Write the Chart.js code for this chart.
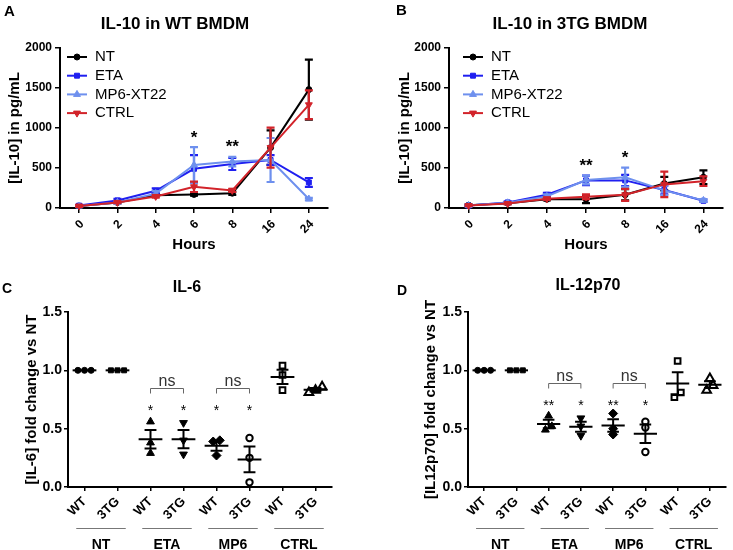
<!DOCTYPE html>
<html>
<head>
<meta charset="utf-8">
<script src="https://cdn.jsdelivr.net/npm/chart.js@4.4.1/dist/chart.umd.min.js"></script>
<style>
  body { margin: 0; background: #fff; }
  #wrap { position: relative; width: 733px; height: 550px; overflow: hidden; font-family: "Liberation Sans", Arial, sans-serif; }
  #wrap canvas { position: absolute; }
  .tag { position: absolute; font-weight: bold; font-size: 15px; line-height: 15px; }
  .ttl { position: absolute; font-weight: bold; font-size: 17px; line-height: 17px; white-space: nowrap; transform: translateX(-50%); }
</style>
</head>
<body>
<div id="wrap">
  <canvas id="chartA" width="366" height="275" style="left:0;top:0"></canvas>
  <canvas id="chartB" width="367" height="275" style="left:366px;top:0"></canvas>
  <canvas id="chartC" width="366" height="275" style="left:0;top:275px"></canvas>
  <canvas id="chartD" width="367" height="275" style="left:366px;top:275px"></canvas>

  <div class="tag" style="left:4px;top:3px">A</div>
  <div class="tag" style="left:396px;top:2px">B</div>
  <div class="tag" style="left:2px;top:281px;font-size:14px">C</div>
  <div class="tag" style="left:397px;top:283px;font-size:14px">D</div>

  <div class="ttl" style="left:175px;top:15px">IL-10 in WT BMDM</div>
  <div class="ttl" style="left:570px;top:15px">IL-10 in 3TG BMDM</div>
  <div class="ttl" style="left:187px;top:278px;font-size:16px">IL-6</div>
  <div class="ttl" style="left:588px;top:276px;font-size:16px">IL-12p70</div>
</div>

<script>
const hours = ['0', '2', '4', '6', '8', '16', '24'];

// A: IL-10 in WT BMDM, pg/mL, mean and SEM
const wtNT = [25, 70, 160, 170, 185, 755, 1480];
const wtNTErr = [10, 10, 15, 15, 20, 215, 375];
const wtETA = [30, 95, 215, 490, 550, 600, 320];
const wtETAErr = [10, 20, 30, 170, 75, 60, 55];
const wtMP6 = [25, 70, 180, 537, 580, 600, 112];
const wtMP6Err = [10, 15, 30, 225, 60, 275, 15];
const wtCTRL = [25, 70, 145, 265, 220, 755, 1290];
const wtCTRLErr = [10, 10, 15, 65, 20, 250, 180];
const wtStars = ['', '', '', '*', '**', '', ''];

// B: IL-10 in 3TG BMDM
const tgNT = [35, 60, 110, 110, 165, 305, 385];
const tgNTErr = [8, 10, 15, 50, 70, 85, 85];
const tgETA = [30, 70, 165, 345, 345, 225, 90];
const tgETAErr = [8, 12, 25, 60, 70, 55, 15];
const tgMP6 = [30, 65, 145, 350, 385, 220, 95];
const tgMP6Err = [8, 12, 25, 55, 120, 60, 15];
const tgCTRL = [30, 55, 115, 140, 165, 295, 335];
const tgCTRLErr = [8, 10, 15, 30, 75, 160, 60];
const tgStars = ['', '', '', '**', '*', '', ''];

// C and D: fold change vs NT, three replicates per group
const genotypes = ['WT', '3TG', 'WT', '3TG', 'WT', '3TG', 'WT', '3TG'];
const treatments = ['NT', 'ETA', 'MP6', 'CTRL'];
const il6Fold = [
  [1, 1, 1], [1, 1, 1],
  [0.56, 0.38, 0.29], [0.55, 0.40, 0.28],
  [0.40, 0.39, 0.27], [0.42, 0.25, 0.04],
  [1.04, 0.96, 0.83], [0.86, 0.83, 0.81]
];
const il12Fold = [
  [1, 1, 1], [1, 1, 1],
  [0.61, 0.52, 0.49], [0.59, 0.52, 0.44],
  [0.63, 0.50, 0.45], [0.56, 0.51, 0.30],
  [1.08, 0.81, 0.77], [0.93, 0.87, 0.83]
];
const il6Stars = ['', '', '*', '*', '*', '*', '', ''];
const il12Stars = ['', '', '**', '*', '**', '*', '', ''];
const nsPairs = [[2, 3], [4, 5]];

const FONT = '"Liberation Sans", Arial, sans-serif';
Chart.defaults.font.family = FONT;
Chart.defaults.color = '#000';

const colNT = '#000000', colETA = '#1f1ff0', colMP6 = '#6e90ee', colCTRL = '#d2232a';

// error bars drawn right after each line so later series sit on top
const errorBars = {
  id: 'errorBars',
  afterDatasetDraw(chart, args) {
    const ds = chart.data.datasets[args.index];
    if (!ds.errors) return;
    const y = chart.scales.y, ctx = chart.ctx;
    ctx.save();
    ctx.strokeStyle = ds.borderColor;
    ctx.lineWidth = 2.2;
    args.meta.data.forEach((pt, i) => {
      const e = ds.errors[i];
      const top = y.getPixelForValue(ds.data[i] + e);
      const bot = y.getPixelForValue(Math.max(ds.data[i] - e, 0));
      ctx.beginPath();
      ctx.moveTo(pt.x, top); ctx.lineTo(pt.x, bot);
      ctx.moveTo(pt.x - 4, top); ctx.lineTo(pt.x + 4, top);
      ctx.moveTo(pt.x - 4, bot); ctx.lineTo(pt.x + 4, bot);
      ctx.stroke();
    });
    ctx.restore();
  }
};

// legend inside the plot, line + marker like the prism key
const seriesKey = {
  id: 'seriesKey',
  afterDraw(chart, args, opts) {
    const { ctx, chartArea } = chart;
    ctx.save();
    ctx.font = '15px ' + FONT;
    ctx.textBaseline = 'middle';
    chart.data.datasets.forEach((ds, i) => {
      const y = chartArea.top + 9 + i * 18.7;
      const x0 = chartArea.left + opts.x;
      ctx.strokeStyle = ds.borderColor;
      ctx.fillStyle = ds.borderColor;
      ctx.lineWidth = 2;
      ctx.beginPath(); ctx.moveTo(x0, y); ctx.lineTo(x0 + 20, y); ctx.stroke();
      ctx.lineWidth = 1;
      Chart.helpers.drawPoint(ctx, { pointStyle: ds.pointStyle, rotation: ds.pointRotation || 0, radius: ds.pointRadius, borderWidth: 1 }, x0 + 10, y);
      ctx.fillStyle = '#000';
      ctx.fillText(ds.label, x0 + 28, y);
    });
    ctx.restore();
  }
};

// significance marks above the highest error bar of a time point
const timeStars = {
  id: 'timeStars',
  afterDatasetsDraw(chart, args, opts) {
    const { ctx, scales: { x, y } } = chart;
    ctx.save();
    ctx.fillStyle = '#000';
    ctx.font = 'bold 17px ' + FONT;
    ctx.textAlign = 'center';
    ctx.textBaseline = 'middle';
    opts.marks.forEach((m, i) => {
      if (!m) return;
      const top = Math.max(...chart.data.datasets.map(ds => ds.data[i] + ds.errors[i]));
      ctx.fillText(m, x.getPixelForValue(i), y.getPixelForValue(top) - 9);
    });
    ctx.restore();
  }
};

function series(label, data, errors, color, style, radius, rotation, order) {
  return {
    label, data, errors,
    borderColor: color, backgroundColor: color,
    pointBackgroundColor: color, pointBorderColor: color,
    pointStyle: style, pointRadius: radius, pointRotation: rotation, pointBorderWidth: 1,
    borderWidth: 2, tension: 0, clip: false, order
  };
}

function timeCourse(id, sets, stars, keyX, leftWidth, rightPad, yTitlePad) {
  return new Chart(document.getElementById(id), {
    type: 'line',
    data: { labels: hours, datasets: sets },
    options: {
      responsive: false,
      animation: false,
      layout: { padding: { left: 0, top: 48, right: rightPad, bottom: 0 } },
      plugins: {
        legend: { display: false },
        tooltip: { enabled: false },
        seriesKey: { x: keyX },
        timeStars: { marks: stars }
      },
      scales: {
        x: {
          offset: true,
          grid: { offset: false, drawOnChartArea: false, color: '#000', lineWidth: 1.5, tickLength: 5 },
          border: { color: '#000', width: 2 },
          ticks: { font: { size: 12, weight: 'bold' }, minRotation: 45, maxRotation: 45, labelOffset: 3, padding: 4 },
          title: { display: true, text: 'Hours', font: { size: 15, weight: 'bold' }, padding: { top: 0, bottom: 21 } },
          afterFit: s => { s.height = 67; }
        },
        y: {
          min: 0, max: 2000,
          grid: { drawOnChartArea: false, color: '#000', lineWidth: 1.5, tickLength: 5 },
          border: { color: '#000', width: 2 },
          ticks: { stepSize: 500, callback: v => String(v), font: { size: 12, weight: 'bold' }, padding: 3 },
          title: { display: true, text: '[IL-10] in pg/mL', font: { size: 15, weight: 'bold' }, padding: { top: yTitlePad, bottom: 0 } },
          afterFit: s => { s.width = leftWidth; }
        }
      }
    },
    plugins: [errorBars, seriesKey, timeStars]
  });
}

timeCourse('chartA', [
  series('NT', wtNT, wtNTErr, colNT, 'circle', 3, 0, 4),
  series('ETA', wtETA, wtETAErr, colETA, 'rect', 3.5, 0, 3),
  series('MP6-XT22', wtMP6, wtMP6Err, colMP6, 'triangle', 4, 0, 2),
  series('CTRL', wtCTRL, wtCTRLErr, colCTRL, 'triangle', 4, 180, 1)
], wtStars, 7, 60, 38, 6);

timeCourse('chartB', [
  series('NT', tgNT, tgNTErr, colNT, 'circle', 3, 0, 4),
  series('ETA', tgETA, tgETAErr, colETA, 'rect', 3.5, 0, 3),
  series('MP6-XT22', tgMP6, tgMP6Err, colMP6, 'triangle', 4, 0, 2),
  series('CTRL', tgCTRL, tgCTRLErr, colCTRL, 'triangle', 4, 180, 1)
], tgStars, 14, 83, 10, 30);

// ---- dot plots ----

// points with nearly the same value are spread sideways, as prism does
function spread(values) {
  const xs = values.map(() => 0);
  const idx = values.map((v, i) => i).sort((a, b) => values[a] - values[b]);
  let k = 0;
  while (k < idx.length) {
    let j = k;
    while (j + 1 < idx.length && values[idx[j + 1]] - values[idx[j]] < 0.045) j++;
    const n = j - k + 1;
    for (let m = 0; m < n; m++) xs[idx[k + m]] = (m - (n - 1) / 2) * 0.2;
    k = j + 1;
  }
  return xs;
}

const dotMarks = [
  { style: 'circle', r: 3, open: false },
  { style: 'rect', r: 3.5, open: false },
  { style: 'triangle', r: 4.5, open: false },
  { style: 'triangle', r: 4.5, open: false, rot: 180 },
  { style: 'rectRot', r: 4.5, open: false },
  { style: 'circle', r: 3.2, open: true },
  { style: 'rect', r: 4, open: true },
  { style: 'triangle', r: 5, open: true }
];

const dotStats = {
  id: 'dotStats',
  afterDatasetsDraw(chart, args, opts) {
    const { ctx, scales: { x, y } } = chart;
    const step = x.getPixelForValue(1) - x.getPixelForValue(0);
    ctx.save();
    // mean and SEM
    ctx.strokeStyle = '#000';
    ctx.lineWidth = 2;
    chart.data.datasets.forEach((ds, i) => {
      const v = ds.values;
      const mean = v.reduce((a, b) => a + b, 0) / v.length;
      const sd = Math.sqrt(v.reduce((a, b) => a + (b - mean) ** 2, 0) / (v.length - 1));
      const sem = sd / Math.sqrt(v.length);
      const cx = x.getPixelForValue(i);
      const ym = y.getPixelForValue(mean);
      ctx.beginPath();
      ctx.moveTo(cx - 0.36 * step, ym); ctx.lineTo(cx + 0.36 * step, ym);
      if (sem > 0) {
        const yt = y.getPixelForValue(mean + sem), yb = y.getPixelForValue(mean - sem);
        ctx.moveTo(cx, yt); ctx.lineTo(cx, yb);
        ctx.moveTo(cx - 0.18 * step, yt); ctx.lineTo(cx + 0.18 * step, yt);
        ctx.moveTo(cx - 0.18 * step, yb); ctx.lineTo(cx + 0.18 * step, yb);
      }
      ctx.stroke();
    });
    // stars
    ctx.fillStyle = '#000';
    ctx.font = '14px ' + FONT;
    ctx.textAlign = 'center';
    ctx.textBaseline = 'alphabetic';
    opts.stars.forEach((s, i) => {
      if (s) ctx.fillText(s, x.getPixelForValue(i), y.getPixelForValue(opts.starLevel) + 8);
    });
    // ns brackets
    ctx.strokeStyle = '#666';
    ctx.lineWidth = 1;
    ctx.fillStyle = '#333';
    ctx.font = '16px ' + FONT;
    nsPairs.forEach(([a, b]) => {
      const xa = x.getPixelForValue(a), xb = x.getPixelForValue(b);
      const yb = Math.round(y.getPixelForValue(opts.nsLevel)) + 0.5;
      ctx.beginPath();
      ctx.moveTo(xa, yb + 5); ctx.lineTo(xa, yb); ctx.lineTo(xb, yb); ctx.lineTo(xb, yb + 5);
      ctx.stroke();
      ctx.fillText('ns', (xa + xb) / 2, yb - 3);
    });
    ctx.restore();
  },
  afterDraw(chart) {
    // treatment groups under the genotype labels
    const { ctx, scales: { x }, chartArea } = chart;
    const step = x.getPixelForValue(1) - x.getPixelForValue(0);
    ctx.save();
    ctx.strokeStyle = '#777';
    ctx.lineWidth = 1;
    ctx.fillStyle = '#000';
    ctx.font = 'bold 14px ' + FONT;
    ctx.textAlign = 'center';
    ctx.textBaseline = 'alphabetic';
    treatments.forEach((t, g) => {
      const cx = (x.getPixelForValue(2 * g) + x.getPixelForValue(2 * g + 1)) / 2;
      const ly = chartArea.bottom + 41.5;
      ctx.beginPath();
      ctx.moveTo(cx - 0.75 * step, ly); ctx.lineTo(cx + 0.75 * step, ly);
      ctx.stroke();
      ctx.fillText(t, cx, chartArea.bottom + 62);
    });
    ctx.restore();
  }
};

function dotPlot(id, groups, stars, starLevel, nsLevel, yTitle, leftWidth, rightPad, yTitlePad) {
  const sets = groups.map((vals, i) => {
    const m = dotMarks[i];
    const dx = spread(vals);
    return {
      label: genotypes[i],
      values: vals,
      data: vals.map((v, k) => ({ x: i + dx[k], y: v })),
      pointStyle: m.style,
      pointRadius: m.r,
      pointRotation: m.rot || 0,
      pointBorderColor: '#000',
      pointBackgroundColor: m.open ? '#fff' : '#000',
      pointBorderWidth: m.open ? 2 : 1,
      clip: false
    };
  });
  return new Chart(document.getElementById(id), {
    type: 'scatter',
    data: { datasets: sets },
    options: {
      responsive: false,
      animation: false,
      layout: { padding: { left: 0, top: 37, right: rightPad, bottom: 0 } },
      plugins: {
        legend: { display: false },
        tooltip: { enabled: false },
        dotStats: { stars, starLevel, nsLevel }
      },
      scales: {
        x: {
          type: 'linear',
          min: -0.5, max: 7.5,
          afterBuildTicks: s => { s.ticks = genotypes.map((g, i) => ({ value: i })); },
          grid: { drawOnChartArea: false, color: '#000', lineWidth: 1.5, tickLength: 4 },
          border: { color: '#000', width: 2 },
          ticks: { callback: (v, i) => genotypes[i], autoSkip: false, minRotation: 45, maxRotation: 45, font: { size: 13, weight: 'bold' }, padding: 3 },
          afterFit: s => { s.height = 63; }
        },
        y: {
          min: 0, max: 1.5,
          grid: { drawOnChartArea: false, color: '#000', lineWidth: 1.5, tickLength: 4 },
          border: { color: '#000', width: 2 },
          ticks: { stepSize: 0.5, callback: v => v.toFixed(1), font: { size: 14, weight: 'bold' }, padding: 2 },
          title: { display: true, text: yTitle, font: { size: 15, weight: 'bold' }, padding: { top: yTitlePad, bottom: 0 } },
          afterFit: s => { s.width = leftWidth; }
        }
      }
    },
    plugins: [dotStats]
  });
}

dotPlot('chartC', il6Fold, il6Stars, 0.69, 0.846, '[IL-6] fold change vs NT', 68, 34, 23);
dotPlot('chartD', il12Fold, il12Stars, 0.73, 0.894, '[IL12p70] fold change vs NT', 102, 0, 56);
</script>
</body>
</html>
